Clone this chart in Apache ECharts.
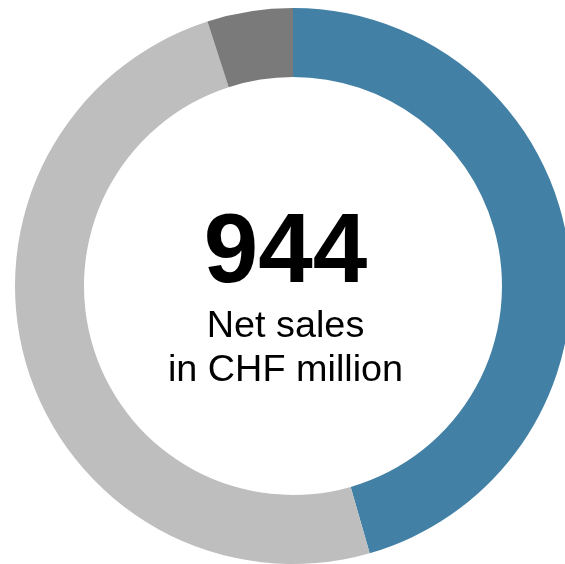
<!DOCTYPE html>
<html><head><meta charset="utf-8">
<script src="https://cdn.jsdelivr.net/npm/echarts@6/dist/echarts.min.js"></script>
<style>html,body{margin:0;padding:0;background:#fff}#c{width:565px;height:564px}</style>
</head><body><div id="c"></div>
<script>
const categories = ["Segment A", "Segment B", "Segment C"];
const values = [430, 467, 47];
const colors = ["#4280A5", "#BEBEBE", "#7A7A7A"];
const totalLabel = "944";
const subLabel = ["Net sales", "in CHF million"];

const chart = echarts.init(document.getElementById('c'), null, {renderer: 'canvas'});
chart.setOption({
  animation: false,
  series: [{
    type: 'pie',
    center: [293, 286],
    radius: [209, 278],
    startAngle: 90,
    clockwise: true,
    label: {show: false},
    labelLine: {show: false},
    emphasis: {disabled: true},
    itemStyle: {borderWidth: 0},
    data: categories.map((c, i) => ({name: c, value: values[i], itemStyle: {color: colors[i]}}))
  }],
  graphic: [
    {type: 'text', x: 285.5, y: 255, style: {text: totalLabel, font: 'bold 98px "Liberation Sans", Arial, sans-serif', fill: '#000', align: 'center', verticalAlign: 'middle'}},
    {type: 'text', x: 285.5, y: 327, scaleX: 1.05, style: {text: subLabel[0], font: '36px "Liberation Sans", Arial, sans-serif', fill: '#000', align: 'center', verticalAlign: 'middle'}},
    {type: 'text', x: 285.5, y: 371, scaleX: 1.05, style: {text: subLabel[1], font: '36px "Liberation Sans", Arial, sans-serif', fill: '#000', align: 'center', verticalAlign: 'middle'}}
  ]
});
</script></body></html>
